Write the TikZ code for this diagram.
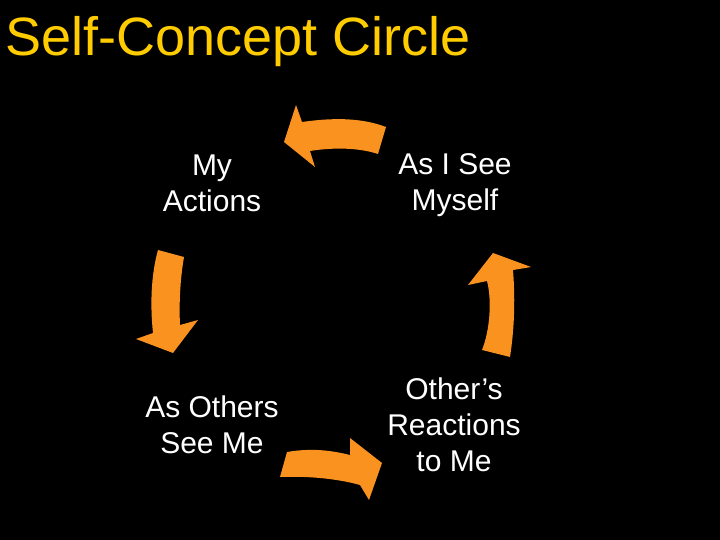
\documentclass[tikz,border=0pt]{standalone}
\usepackage{fontspec}
\setmainfont{Liberation Sans}
\definecolor{titleyellow}{RGB}{255,204,0}
\definecolor{arroworange}{RGB}{250,146,32}
\tikzset{
  label text/.style={text=white, align=center, inner sep=0pt, font=\fontsize{30}{36}\selectfont},
  curved arrow/.style={fill=arroworange, draw=none}
}
\begin{document}
\begin{tikzpicture}[x=1pt,y=-1pt]
\fill[black] (0,0) rectangle (720,540);
\useasboundingbox (0,0) rectangle (720,540);
\node[anchor=base west, inner sep=0pt, text=titleyellow, font=\fontsize{54}{62}\selectfont] (title) at (5,56) {Self-Concept Circle};
\node[label text] (actions) at (212,183) {My\\Actions};
\node[label text] (seemyself) at (455,185) {As I See\\Myself};
\node[label text] (others) at (212,425) {As Others\\See Me};
\node[label text] (reactions) at (454,425) {Other’s\\Reactions\\to Me};
% top arrow (pointing left)
\fill[curved arrow] (386,127) .. controls (360,117) and (330,118) .. (302,122) -- (296,105) -- (284,142) -- (315,167) -- (310,151) .. controls (335,147) and (360,148) .. (378,154) -- cycle;
% left arrow (pointing down)
\fill[curved arrow] (158,250) -- (184,257) .. controls (180,280) and (179,305) .. (180,325) -- (198,320) -- (173,353) -- (136,339) -- (153,333) .. controls (150,305) and (151,275) .. (158,250) -- cycle;
% right arrow (pointing up)
\fill[curved arrow] (482,350) -- (510,357) .. controls (515,325) and (515,295) .. (513,270) -- (531,267) -- (493,253) -- (468,285) -- (487,281) .. controls (492,300) and (490,330) .. (482,350) -- cycle;
% bottom arrow (pointing right)
\fill[curved arrow] (287,452) .. controls (310,448) and (330,450) .. (350,455) -- (350,438) -- (382,463) -- (369,500) -- (360,485) .. controls (335,478) and (305,476) .. (280,477) -- cycle;
\end{tikzpicture}
\end{document}
